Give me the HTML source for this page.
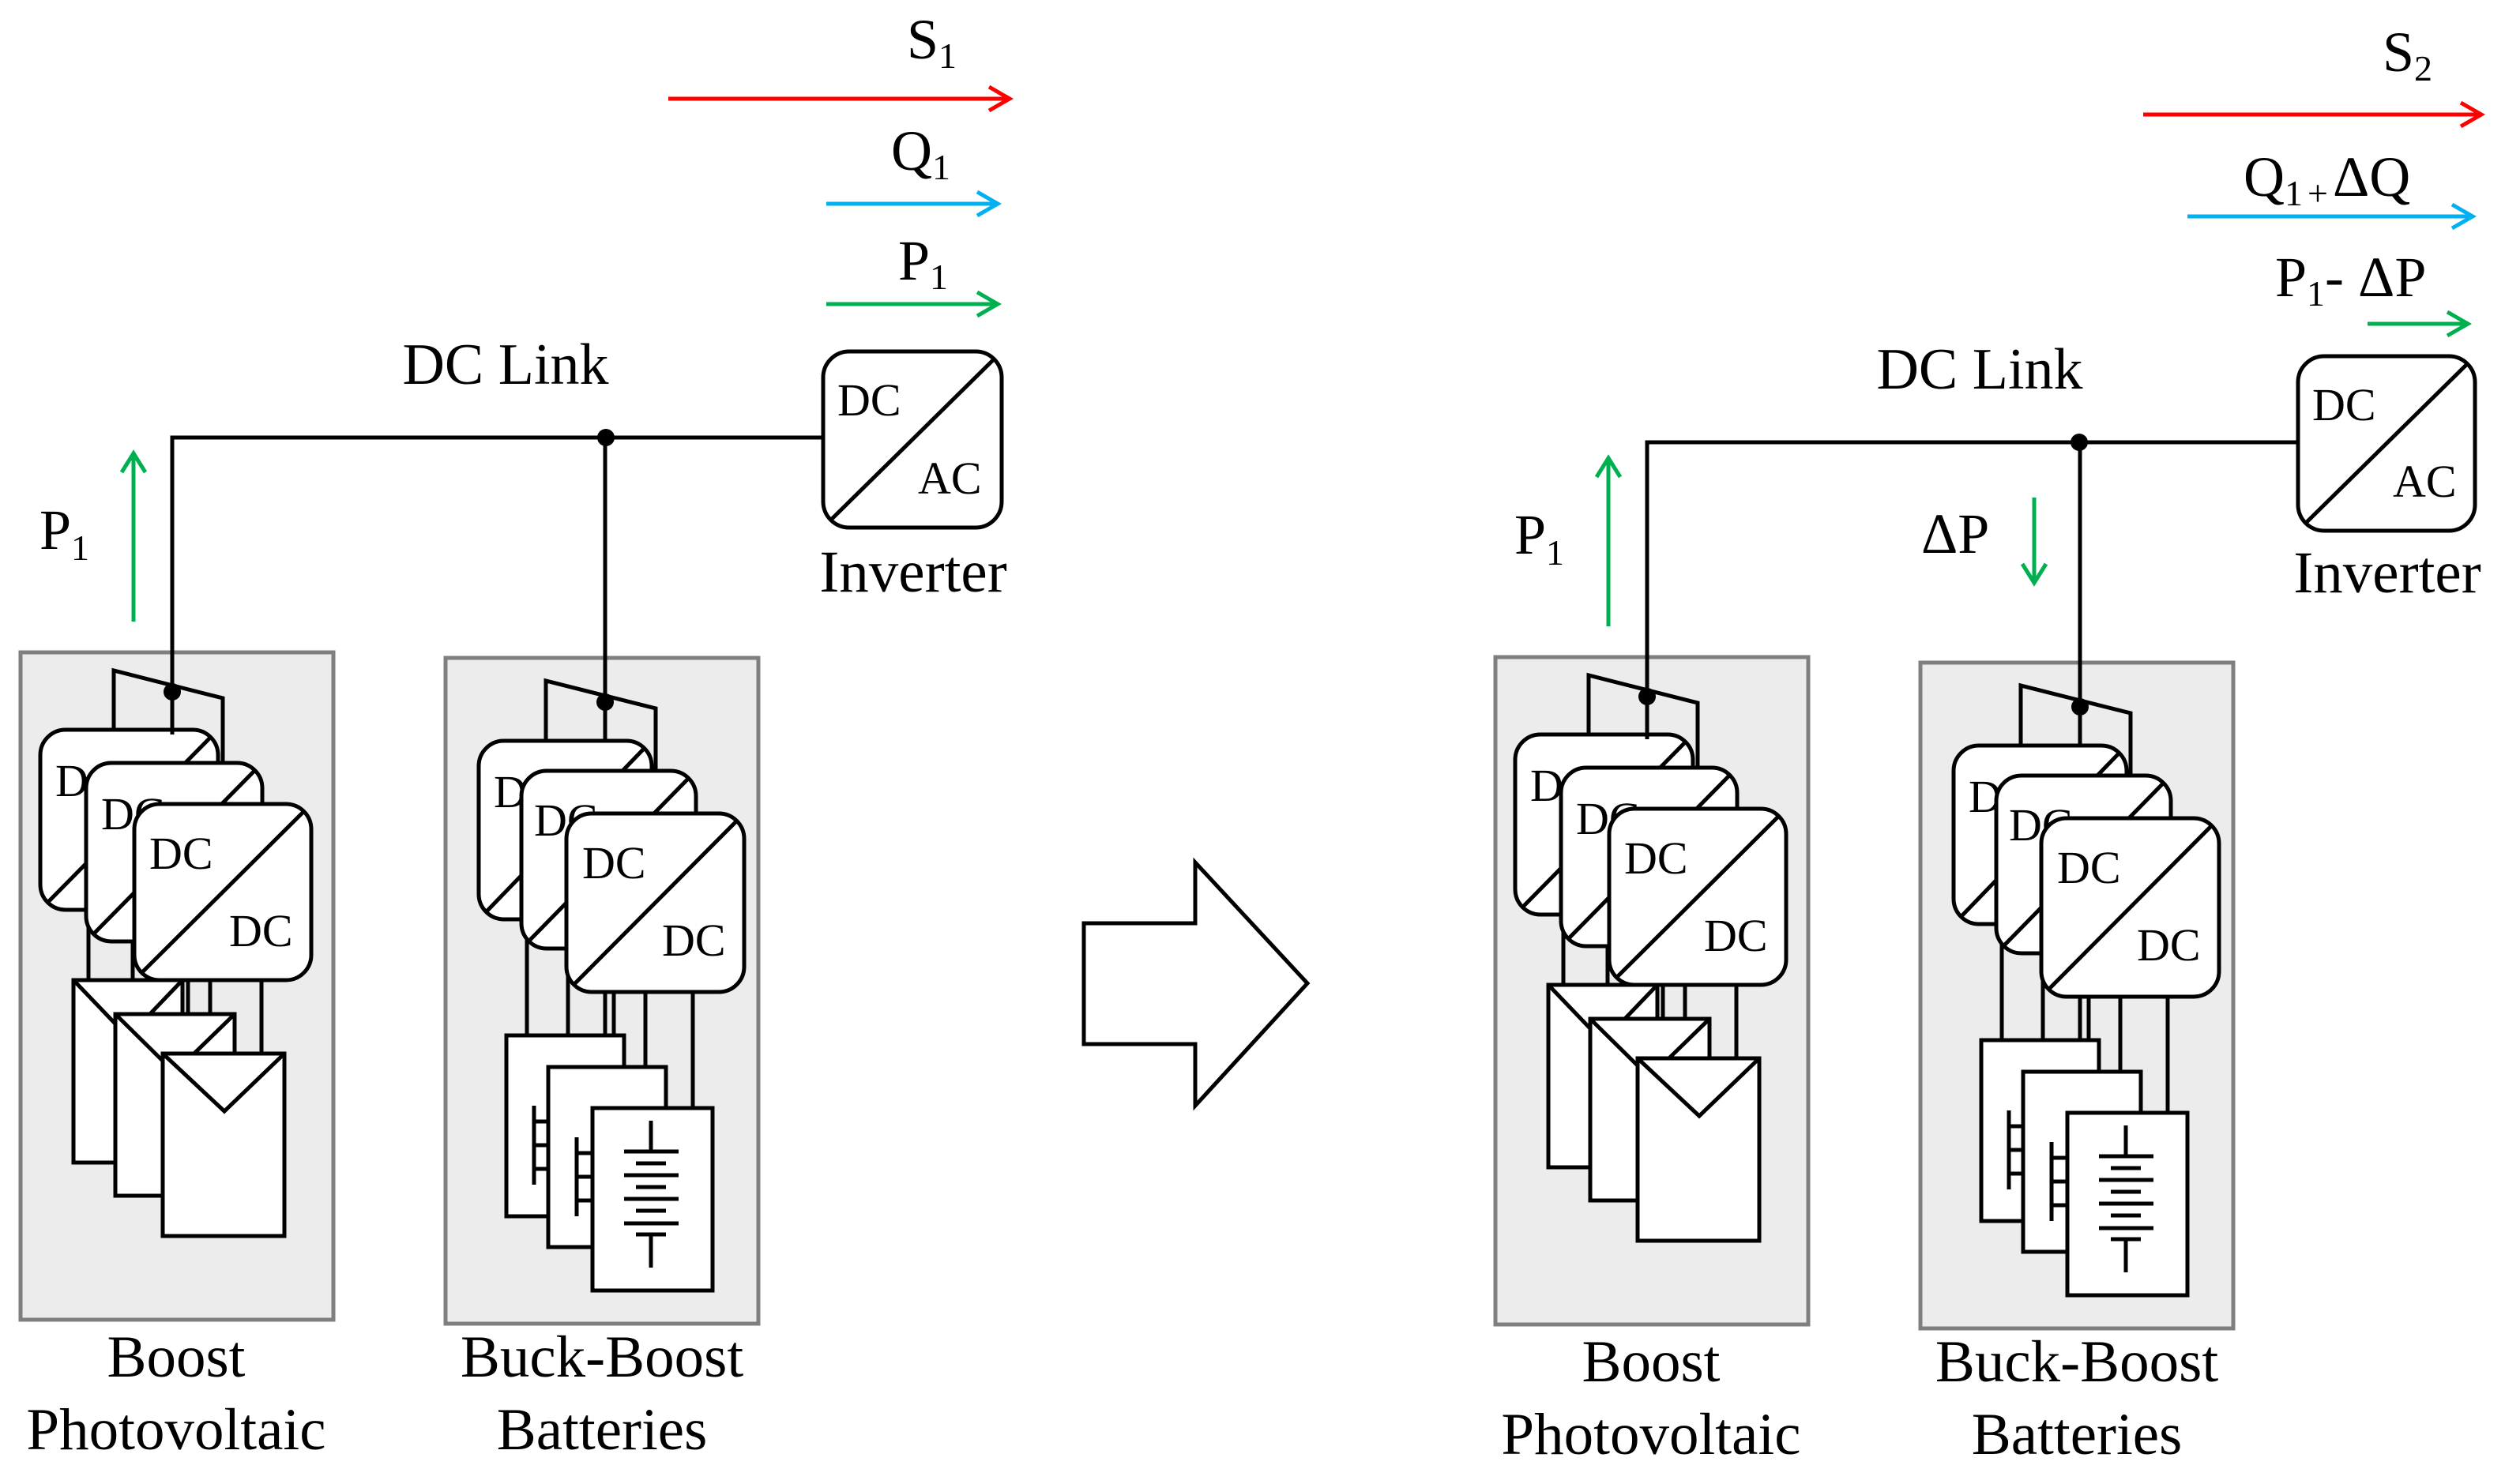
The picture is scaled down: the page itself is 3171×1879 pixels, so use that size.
<!DOCTYPE html>
<html><head><meta charset="utf-8"><style>
html,body{margin:0;padding:0;background:#fff;}
svg{display:block;}
text{font-family:"Liberation Serif",serif;fill:#000;}
</style></head><body>
<svg width="3171" height="1879" viewBox="0 0 3171 1879" xmlns="http://www.w3.org/2000/svg">
<g id="left">
<!-- PV module -->
<rect x="26" y="826" width="396" height="845" fill="#ececec" stroke="#7f7f7f" stroke-width="5"/>
<g stroke="#000" stroke-width="5" fill="none">
<line x1="218" y1="554" x2="218" y2="966"/>
<polyline points="144,924 144,849 282,884 282,1018"/>
<line x1="112" y1="1150" x2="112" y2="1243"/>
<line x1="168" y1="1190" x2="168" y2="1286"/>
<line x1="228" y1="1239" x2="228" y2="1336"/>
<line x1="238" y1="1239" x2="238" y2="1336"/>
<line x1="266" y1="1239" x2="266" y2="1286"/>
<line x1="331" y1="1239" x2="331" y2="1336"/>
</g>
<circle cx="218" cy="876" r="11" fill="#000"/>
<g stroke="#000" stroke-width="5" fill="#fff">
<rect x="51" y="924" width="225" height="228" rx="32"/>
<line x1="60" y1="1143" x2="267" y2="933"/>
</g>
<text x="70" y="1008" font-size="58">DC</text>
<g stroke="#000" stroke-width="5" fill="#fff">
<rect x="109" y="966" width="223" height="226" rx="32"/>
<line x1="118" y1="1183" x2="323" y2="975"/>
</g>
<text x="128" y="1050" font-size="58">DC</text>
<g stroke="#000" stroke-width="5" fill="#fff">
<rect x="170" y="1018" width="224" height="223" rx="32"/>
<line x1="179" y1="1232" x2="385" y2="1027"/>
</g>
<text x="189" y="1100" font-size="58">DC</text>
<text x="290" y="1198" font-size="58">DC</text>
<g stroke="#000" stroke-width="5" fill="#fff">
<rect x="93" y="1241" width="138" height="231"/>
<polyline points="93,1241 162,1313 231,1241" fill="none"/>
<rect x="146" y="1284" width="151" height="230"/>
<polyline points="146,1284 221,1358 297,1284" fill="none"/>
<rect x="206" y="1334" width="154" height="231"/>
<polyline points="206,1334 284,1407 360,1334" fill="none"/>
</g>
<!-- Battery module -->
<rect x="564" y="833" width="396" height="843" fill="#ececec" stroke="#7f7f7f" stroke-width="5"/>
<g stroke="#000" stroke-width="5" fill="none">
<line x1="766" y1="554" x2="766" y2="976"/>
<polyline points="691,938 691,862 830,897 830,1030"/>
<line x1="667" y1="1162" x2="667" y2="1313"/>
<line x1="719" y1="1199" x2="719" y2="1353"/>
<line x1="766" y1="1254" x2="766" y2="1405"/>
<line x1="777" y1="1254" x2="777" y2="1405"/>
<line x1="817" y1="1254" x2="817" y2="1353"/>
<line x1="877" y1="1254" x2="877" y2="1405"/>
</g>
<circle cx="766" cy="889" r="11" fill="#000"/>
<g stroke="#000" stroke-width="5" fill="#fff">
<rect x="606" y="938" width="219" height="226" rx="32"/>
<line x1="615" y1="1155" x2="816" y2="947"/>
</g>
<text x="625" y="1022" font-size="58">DC</text>
<g stroke="#000" stroke-width="5" fill="#fff">
<rect x="660" y="976" width="221" height="225" rx="32"/>
<line x1="669" y1="1192" x2="872" y2="985"/>
</g>
<text x="676" y="1058" font-size="58">DC</text>
<g stroke="#000" stroke-width="5" fill="#fff">
<rect x="717" y="1030" width="225" height="226" rx="32"/>
<line x1="726" y1="1247" x2="933" y2="1039"/>
</g>
<text x="737" y="1112" font-size="58">DC</text>
<text x="838" y="1210" font-size="58">DC</text>
<g stroke="#000" stroke-width="5" fill="#fff">
<rect x="641" y="1311" width="149" height="229"/>
<g fill="none"><line x1="676" y1="1400" x2="676" y2="1500"/>
<line x1="676" y1="1420" x2="700" y2="1420"/><line x1="676" y1="1450" x2="700" y2="1450"/><line x1="676" y1="1480" x2="700" y2="1480"/></g>
<rect x="694" y="1351" width="149" height="228"/>
<g fill="none"><line x1="730" y1="1440" x2="730" y2="1540"/>
<line x1="730" y1="1460" x2="750" y2="1460"/><line x1="730" y1="1490" x2="750" y2="1490"/><line x1="730" y1="1520" x2="750" y2="1520"/></g>
<rect x="750" y="1403" width="152" height="231"/>
<g fill="none">
<line x1="824" y1="1419" x2="824" y2="1458"/>
<line x1="790" y1="1458" x2="859" y2="1458"/>
<line x1="805" y1="1473" x2="843" y2="1473"/>
<line x1="790" y1="1488" x2="859" y2="1488"/>
<line x1="805" y1="1503" x2="843" y2="1503"/>
<line x1="790" y1="1518" x2="859" y2="1518"/>
<line x1="805" y1="1533" x2="843" y2="1533"/>
<line x1="790" y1="1549" x2="859" y2="1549"/>
<line x1="805" y1="1563" x2="843" y2="1563"/>
<line x1="824" y1="1563" x2="824" y2="1605"/>
</g>
</g>
<!-- bus & inverter -->
<polyline points="218,930 218,554 1042,554" fill="none" stroke="#000" stroke-width="5"/>
<circle cx="767" cy="554" r="11" fill="#000"/>
<g stroke="#000" stroke-width="5" fill="#fff">
<rect x="1042" y="445" width="226" height="223" rx="33"/>
<line x1="1052" y1="658" x2="1258" y2="455"/>
</g>
<text x="1060" y="526" font-size="58">DC</text>
<text x="1162" y="625" font-size="58">AC</text>
<text x="1156" y="749" font-size="75" text-anchor="middle">Inverter</text>
<text x="640" y="486" font-size="74" text-anchor="middle">DC Link</text>
<text x="223" y="1743" font-size="75" text-anchor="middle">Boost</text>
<text x="223" y="1835" font-size="75" text-anchor="middle">Photovoltaic</text>
<text x="762" y="1743" font-size="75" text-anchor="middle">Buck-Boost</text>
<text x="762" y="1835" font-size="75" text-anchor="middle">Batteries</text>
<!-- P1 up arrow -->
<g stroke="#00b050" stroke-width="5" fill="none">
<line x1="169" y1="787" x2="169" y2="574"/>
<polyline points="154,598 169,574 184,598"/>
</g>
<text x="50" y="695" font-size="72">P<tspan font-size="46" dy="14">1</tspan></text>
</g>
<g transform="translate(1867,6)">
<rect x="26" y="826" width="396" height="845" fill="#ececec" stroke="#7f7f7f" stroke-width="5"/>
<g stroke="#000" stroke-width="5" fill="none">
<line x1="218" y1="554" x2="218" y2="966"/>
<polyline points="144,924 144,849 282,884 282,1018"/>
<line x1="112" y1="1150" x2="112" y2="1243"/>
<line x1="168" y1="1190" x2="168" y2="1286"/>
<line x1="228" y1="1239" x2="228" y2="1336"/>
<line x1="238" y1="1239" x2="238" y2="1336"/>
<line x1="266" y1="1239" x2="266" y2="1286"/>
<line x1="331" y1="1239" x2="331" y2="1336"/>
</g>
<circle cx="218" cy="876" r="11" fill="#000"/>
<g stroke="#000" stroke-width="5" fill="#fff">
<rect x="51" y="924" width="225" height="228" rx="32"/>
<line x1="60" y1="1143" x2="267" y2="933"/>
</g>
<text x="70" y="1008" font-size="58">DC</text>
<g stroke="#000" stroke-width="5" fill="#fff">
<rect x="109" y="966" width="223" height="226" rx="32"/>
<line x1="118" y1="1183" x2="323" y2="975"/>
</g>
<text x="128" y="1050" font-size="58">DC</text>
<g stroke="#000" stroke-width="5" fill="#fff">
<rect x="170" y="1018" width="224" height="223" rx="32"/>
<line x1="179" y1="1232" x2="385" y2="1027"/>
</g>
<text x="189" y="1100" font-size="58">DC</text>
<text x="290" y="1198" font-size="58">DC</text>
<g stroke="#000" stroke-width="5" fill="#fff">
<rect x="93" y="1241" width="138" height="231"/>
<polyline points="93,1241 162,1313 231,1241" fill="none"/>
<rect x="146" y="1284" width="151" height="230"/>
<polyline points="146,1284 221,1358 297,1284" fill="none"/>
<rect x="206" y="1334" width="154" height="231"/>
<polyline points="206,1334 284,1407 360,1334" fill="none"/>
</g>
<rect x="564" y="833" width="396" height="843" fill="#ececec" stroke="#7f7f7f" stroke-width="5"/>
<g stroke="#000" stroke-width="5" fill="none">
<line x1="766" y1="554" x2="766" y2="976"/>
<polyline points="691,938 691,862 830,897 830,1030"/>
<line x1="667" y1="1162" x2="667" y2="1313"/>
<line x1="719" y1="1199" x2="719" y2="1353"/>
<line x1="766" y1="1254" x2="766" y2="1405"/>
<line x1="777" y1="1254" x2="777" y2="1405"/>
<line x1="817" y1="1254" x2="817" y2="1353"/>
<line x1="877" y1="1254" x2="877" y2="1405"/>
</g>
<circle cx="766" cy="889" r="11" fill="#000"/>
<g stroke="#000" stroke-width="5" fill="#fff">
<rect x="606" y="938" width="219" height="226" rx="32"/>
<line x1="615" y1="1155" x2="816" y2="947"/>
</g>
<text x="625" y="1022" font-size="58">DC</text>
<g stroke="#000" stroke-width="5" fill="#fff">
<rect x="660" y="976" width="221" height="225" rx="32"/>
<line x1="669" y1="1192" x2="872" y2="985"/>
</g>
<text x="676" y="1058" font-size="58">DC</text>
<g stroke="#000" stroke-width="5" fill="#fff">
<rect x="717" y="1030" width="225" height="226" rx="32"/>
<line x1="726" y1="1247" x2="933" y2="1039"/>
</g>
<text x="737" y="1112" font-size="58">DC</text>
<text x="838" y="1210" font-size="58">DC</text>
<g stroke="#000" stroke-width="5" fill="#fff">
<rect x="641" y="1311" width="149" height="229"/>
<g fill="none"><line x1="676" y1="1400" x2="676" y2="1500"/>
<line x1="676" y1="1420" x2="700" y2="1420"/><line x1="676" y1="1450" x2="700" y2="1450"/><line x1="676" y1="1480" x2="700" y2="1480"/></g>
<rect x="694" y="1351" width="149" height="228"/>
<g fill="none"><line x1="730" y1="1440" x2="730" y2="1540"/>
<line x1="730" y1="1460" x2="750" y2="1460"/><line x1="730" y1="1490" x2="750" y2="1490"/><line x1="730" y1="1520" x2="750" y2="1520"/></g>
<rect x="750" y="1403" width="152" height="231"/>
<g fill="none">
<line x1="824" y1="1419" x2="824" y2="1458"/>
<line x1="790" y1="1458" x2="859" y2="1458"/>
<line x1="805" y1="1473" x2="843" y2="1473"/>
<line x1="790" y1="1488" x2="859" y2="1488"/>
<line x1="805" y1="1503" x2="843" y2="1503"/>
<line x1="790" y1="1518" x2="859" y2="1518"/>
<line x1="805" y1="1533" x2="843" y2="1533"/>
<line x1="790" y1="1549" x2="859" y2="1549"/>
<line x1="805" y1="1563" x2="843" y2="1563"/>
<line x1="824" y1="1563" x2="824" y2="1605"/>
</g>
</g>
<polyline points="218,930 218,554 1042,554" fill="none" stroke="#000" stroke-width="5"/>
<circle cx="765" cy="554" r="11" fill="#000"/>
<g stroke="#000" stroke-width="5" fill="#fff">
<rect x="1042" y="445" width="224" height="221" rx="33"/>
<line x1="1052" y1="656" x2="1256" y2="455"/>
</g>
<text x="1060" y="526" font-size="58">DC</text>
<text x="1162" y="623" font-size="58">AC</text>
<text x="1155" y="744" font-size="75" text-anchor="middle">Inverter</text>
<text x="639" y="486" font-size="74" text-anchor="middle">DC Link</text>
<text x="223" y="1743" font-size="75" text-anchor="middle">Boost</text>
<text x="223" y="1835" font-size="75" text-anchor="middle">Photovoltaic</text>
<text x="762" y="1743" font-size="75" text-anchor="middle">Buck-Boost</text>
<text x="762" y="1835" font-size="75" text-anchor="middle">Batteries</text>
<g stroke="#00b050" stroke-width="5" fill="none">
<line x1="169" y1="787" x2="169" y2="574"/>
<polyline points="154,598 169,574 184,598"/>
</g>
<text x="50" y="695" font-size="72">P<tspan font-size="46" dy="14">1</tspan></text>
</g>
<!-- left top arrows -->
<g stroke-width="5" fill="none">
<line x1="846" y1="125" x2="1278" y2="125" stroke="#ff0000"/>
<polyline points="1252,110 1278,125 1252,140" stroke="#ff0000"/>
<line x1="1046" y1="258" x2="1263" y2="258" stroke="#00b0f0"/>
<polyline points="1237,243 1263,258 1237,273" stroke="#00b0f0"/>
<line x1="1046" y1="385" x2="1263" y2="385" stroke="#00b050"/>
<polyline points="1237,370 1263,385 1237,400" stroke="#00b050"/>
</g>
<text x="1148" y="74" font-size="72">S<tspan font-size="46" dy="12">1</tspan></text>
<text x="1128" y="215" font-size="72">Q<tspan font-size="46" dy="12">1</tspan></text>
<text x="1137" y="354" font-size="72">P<tspan font-size="46" dy="12">1</tspan></text>
<!-- right top arrows -->
<g stroke-width="5" fill="none">
<line x1="2713" y1="145" x2="3141" y2="145" stroke="#ff0000"/>
<polyline points="3115,130 3141,145 3115,160" stroke="#ff0000"/>
<line x1="2769" y1="274" x2="3130" y2="274" stroke="#00b0f0"/>
<polyline points="3104,259 3130,274 3104,289" stroke="#00b0f0"/>
<line x1="2997" y1="410" x2="3124" y2="410" stroke="#00b050"/>
<polyline points="3098,395 3124,410 3098,425" stroke="#00b050"/>
<line x1="2575" y1="630" x2="2575" y2="738" stroke="#00b050"/>
<polyline points="2560,714 2575,738 2590,714" stroke="#00b050"/>
</g>
<text x="3016" y="90" font-size="72">S<tspan font-size="46" dy="12">2</tspan></text>
<text x="2840" y="248" font-size="72">Q<tspan font-size="46" dy="12">1</tspan><tspan font-size="46" dx="6">+</tspan><tspan dy="-12" dx="6">ΔQ</tspan></text>
<text x="2880" y="375" font-size="72">P<tspan font-size="46" dy="12">1</tspan><tspan dy="-12">- ΔP</tspan></text>
<text x="2432" y="700" font-size="72">ΔP</text>
<!-- big arrow -->
<polygon points="1372,1169 1513,1169 1513,1092 1655,1245 1513,1400 1513,1322 1372,1322" fill="#fff" stroke="#000" stroke-width="5"/>
</svg>
</body></html>
